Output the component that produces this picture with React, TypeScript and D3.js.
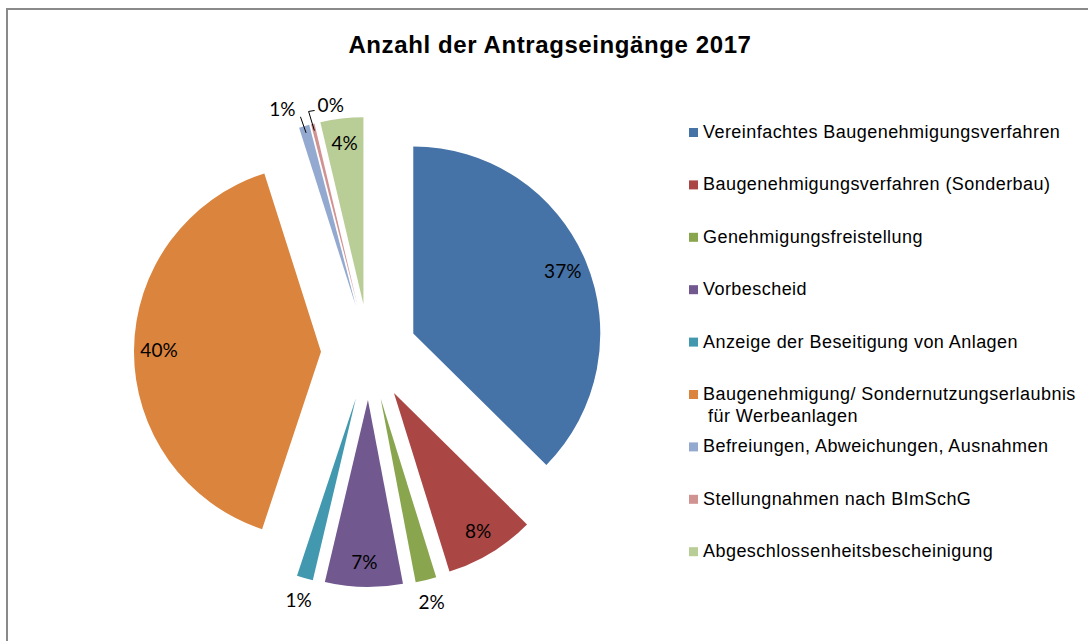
import React from "react";
import * as d3 from "d3";

const categories = [
  "Vereinfachtes Baugenehmigungsverfahren",
  "Baugenehmigungsverfahren (Sonderbau)",
  "Genehmigungsfreistellung",
  "Vorbescheid",
  "Anzeige der Beseitigung von Anlagen",
  "Baugenehmigung/ Sondernutzungserlaubnis|für Werbeanlagen",
  "Befreiungen, Abweichungen, Ausnahmen",
  "Stellungnahmen nach BImSchG",
  "Abgeschlossenheitsbescheinigung",
];
const values = [37.4, 7.8, 1.8, 6.7, 1.4, 40.0, 0.9, 0.3, 3.7];
const colors = ["#4572A7", "#AA4643", "#89A54E", "#71588F", "#4198AF", "#DB843D", "#93A9CF", "#D19392", "#B9CD96"];
const title = "Anzahl der Antragseingänge 2017";

const W = 1088;
const H = 641;
const cx = 369;
const cy = 352;
const R = 187;
const explode = 48;

export default function App() {
  const total = d3.sum(values);
  const pie = d3.pie<number>().sort(null).startAngle(0).endAngle(2 * Math.PI).value((d) => d);
  const arcs = pie(values);
  const arc = d3.arc<d3.PieArcDatum<number>>().innerRadius(0).outerRadius(R);
  const pct = (v: number) => `${Math.round((v / total) * 100)}%`;
  const pt = (a: number, r: number) => [Math.sin(a) * r, -Math.cos(a) * r];

  const legendX = 689;
  const legendY0 = 138;
  const legendStep = 52.4;
  const labelFont = "Lato, Open Sans, sans-serif";

  return (
    <svg width={W} height={H} style={{ position: "absolute", left: 0, top: 0, background: "#fff" }}>
      <rect x={7} y={9} width={W + 20} height={H + 20} fill="#fff" stroke="#8a8a8a" strokeWidth={2} />
      <text x={550} y={53} textAnchor="middle" fontFamily="Liberation Sans, Arial, sans-serif" fontWeight="bold" fontSize={24} letterSpacing={0.6} fill="#000">
        {title}
      </text>
      {arcs.map((a, i) => {
        const mid = (a.startAngle + a.endAngle) / 2;
        const [ox, oy] = pt(mid, explode);
        const ax = cx + ox;
        const ay = cy + oy;
        const small = values[i] / total < 0.03;
        let label: React.ReactNode = null;
        if (!small) {
          const [lx, ly] = pt(mid, 162);
          label = (
            <text x={ax + lx} y={ay + ly} dy="0.35em" textAnchor="middle" fontFamily={labelFont} fontSize={19} fill="#000">
              {pct(values[i])}
            </text>
          );
        } else if (i === 6) {
          const [x1, y1] = pt(mid, 180);
          const [x2, y2] = pt(mid - 0.005, 197);
          label = (
            <g>
              <line x1={ax + x1} y1={ay + y1} x2={ax + x2} y2={ay + y2} stroke="#000" strokeWidth={1} />
              <text x={ax + x2 - 5} y={ay + y2} dy="-0.05em" textAnchor="end" fontFamily={labelFont} fontSize={19} fill="#000">
                {pct(values[i])}
              </text>
            </g>
          );
        } else if (i === 7) {
          const [x1, y1] = pt(mid, 180);
          const [x2, y2] = pt(mid - 0.005, 200);
          const ex = ax + x2;
          const ey = ay + y2;
          label = (
            <g>
              <polyline points={`${ax + x1},${ay + y1} ${ex},${ey} ${ex + 6},${ey - 1}`} fill="none" stroke="#000" strokeWidth={1} />
              <text x={ex + 9} y={ey} dy="0.05em" textAnchor="start" fontFamily={labelFont} fontSize={19} fill="#000">
                {pct(values[i])}
              </text>
            </g>
          );
        } else {
          const [lx, ly] = pt(mid, 210);
          label = (
            <text x={ax + lx} y={ay + ly} dy="0.35em" textAnchor="middle" fontFamily={labelFont} fontSize={19} fill="#000">
              {pct(values[i])}
            </text>
          );
        }
        return (
          <g key={i}>
            <path d={arc(a) || ""} transform={`translate(${ax},${ay})`} fill={colors[i]} />
            {label}
          </g>
        );
      })}
      {categories.map((c, i) => {
        const y = legendY0 + i * legendStep;
        const lines = c.split("|");
        return (
          <g key={c}>
            <rect x={legendX} y={y - 10} width={9} height={9} fill={colors[i]} />
            {lines.map((l, j) => (
              <text
                key={j}
                x={legendX + 14 + (j > 0 ? 5 : 0)}
                y={y + j * 22}
                fontFamily="Liberation Sans, Arial, sans-serif"
                fontSize={18}
                letterSpacing={0.45}
                fill="#000"
              >
                {l}
              </text>
            ))}
          </g>
        );
      })}
    </svg>
  );
}
